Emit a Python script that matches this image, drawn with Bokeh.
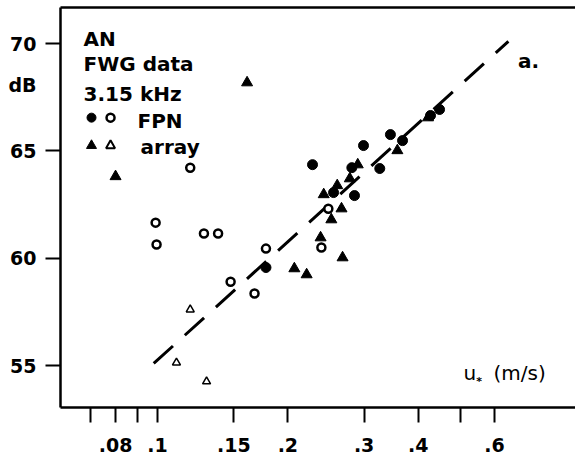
from bokeh.plotting import figure
from bokeh.models import Range1d, FixedTicker, LogAxis, LinearAxis, Label
from bokeh.embed import file_html
from bokeh.resources import INLINE

# ---- data ----
fpn_filled_u = [0.178, 0.228, 0.255, 0.281, 0.285, 0.299, 0.326, 0.345, 0.368, 0.427, 0.448]
fpn_filled_db = [59.57, 64.36, 63.06, 64.22, 62.92, 65.25, 64.18, 65.76, 65.48, 66.65, 66.93]
fpn_open_u = [0.119, 0.099, 0.0995, 0.128, 0.138, 0.1475, 0.1675, 0.178, 0.239, 0.248]
fpn_open_db = [64.22, 61.66, 60.64, 61.15, 61.15, 58.91, 58.36, 60.45, 60.50, 62.31]
arr_filled_u = [0.161, 0.080, 0.242, 0.260, 0.278, 0.290, 0.266, 0.252, 0.238, 0.2675, 0.207, 0.221, 0.358, 0.4215]
arr_filled_db = [68.18, 63.81, 62.97, 63.39, 63.71, 64.36, 62.31, 61.80, 60.96, 60.03, 59.52, 59.24, 65.02, 66.55]
arr_open_u = [0.119, 0.1106, 0.1298]
arr_open_db = [57.61, 55.14, 54.26]
fit_u = [0.098, 0.646]
fit_db = [55.1, 70.1]

x_ticks = [0.07, 0.08, 0.09, 0.1, 0.15, 0.2, 0.3, 0.4, 0.5, 0.6]
x_tick_labels = ["", ".08", "", ".1", ".15", ".2", ".3", ".4", "", ".6"]
y_ticks = [55, 60, 65, 70]
y_tick_labels = ["55", "60", "65", "70"]
y_unit_pos = 68.09
y_unit = "dB"

legend_lines = ["AN", "FWG data", "3.15 kHz"]
series_names = ["FPN", "array"]

FONT = "DejaVu Sans"

p = figure(width=575, height=462, x_axis_type="log",
           x_range=Range1d(0.0597, 0.923), y_range=Range1d(53.05, 71.68),
           output_backend="svg", toolbar_location=None,
           min_border_left=60, min_border_right=0, min_border_top=7, min_border_bottom=55)
p.outline_line_color = None
p.xgrid.visible = False
p.ygrid.visible = False
p.background_fill_color = "white"
p.border_fill_color = "white"

def style_axis(ax, size):
    ax.axis_line_width = 2.5
    ax.axis_line_color = "black"
    ax.major_tick_line_width = 2
    ax.major_tick_line_color = "black"
    ax.major_tick_out = 15
    ax.major_tick_in = 0
    ax.minor_tick_line_color = None
    ax.major_label_text_font = FONT
    ax.major_label_text_font_style = "bold"
    ax.major_label_text_font_size = size
    ax.major_label_text_color = "black"

xa = p.xaxis[0]
xa.ticker = FixedTicker(ticks=x_ticks, minor_ticks=[])
xa.major_label_overrides = {t: l for t, l in zip(x_ticks, x_tick_labels)}
style_axis(xa, "19px")
xa.major_label_standoff = 15

# inner left axis: line + ticks only
ya = p.yaxis[0]
ya.ticker = FixedTicker(ticks=y_ticks, minor_ticks=[])
style_axis(ya, "19px")
ya.major_label_overrides = {t: "" for t in y_ticks}
ya.major_label_standoff = 0

# outer left axis: labels only (numbers + unit)
lab_ticks = y_ticks + [y_unit_pos]
lab_texts = y_tick_labels + [y_unit]
ya2 = LinearAxis(ticker=FixedTicker(ticks=lab_ticks, minor_ticks=[]))
style_axis(ya2, "19px")
ya2.axis_line_color = None
ya2.major_tick_line_color = None
ya2.major_tick_out = 0
ya2.major_label_standoff = 9
ya2.major_label_overrides = {t: l for t, l in zip(lab_ticks, lab_texts)}
p.add_layout(ya2, "left")

top = LogAxis(ticker=FixedTicker(ticks=[], minor_ticks=[]))
top.axis_line_width = 2.5
top.major_tick_out = 0
top.major_tick_in = 0
top.major_label_standoff = 0
top.minor_tick_line_color = None
p.add_layout(top, "above")

# fitted dashed line
p.line(fit_u, fit_db, line_color="black", line_width=3, line_dash="26 16")

# data
p.scatter(fpn_filled_u, fpn_filled_db, marker="circle", size=10, fill_color="black", line_color="black")
p.scatter(arr_filled_u, arr_filled_db, marker="triangle", size=11, fill_color="black", line_color="black")
p.scatter(fpn_open_u, fpn_open_db, marker="circle", size=8, fill_color="white", line_color="black", line_width=2.5)
p.scatter(arr_open_u, arr_open_db, marker="triangle", size=8, fill_color="white", line_color="black", line_width=1.5)

# legend / annotation text
def lab(x, y, text, size="20px", align="left", baseline="alphabetic", style="bold"):
    p.add_layout(Label(x=x, y=y, text=text, text_font=FONT, text_font_size=size,
                       text_font_style=style, text_align=align, text_baseline=baseline,
                       text_color="black"))

for txt, yy in zip(legend_lines, [70.23, 69.07, 67.67]):
    lab(0.0675, yy, txt)
lab(0.0899, 66.41, series_names[0])
lab(0.0914, 65.16, series_names[1])

leg_x_filled = [0.0704]
leg_x_open = [0.0779]
p.scatter(leg_x_filled, [66.55], marker="circle", size=9, fill_color="black", line_color="black")
p.scatter(leg_x_open, [66.55], marker="circle", size=8, fill_color="white", line_color="black", line_width=2.5)
p.scatter(leg_x_filled, [65.25], marker="triangle", size=10, fill_color="black", line_color="black")
p.scatter(leg_x_open, [65.25], marker="triangle", size=9, fill_color="white", line_color="black", line_width=2)

lab(0.719, 69.21, "a.", size="20px", align="center", baseline="middle")
lab(0.5088, 54.68, "u", size="20px", baseline="middle", style="normal")
lab(0.553, 54.25, "*", size="11px", align="center", baseline="middle")
lab(0.597, 54.68, "(m/s)", size="20px", baseline="middle", style="normal")

open("out.html", "w").write(file_html(p, INLINE))
